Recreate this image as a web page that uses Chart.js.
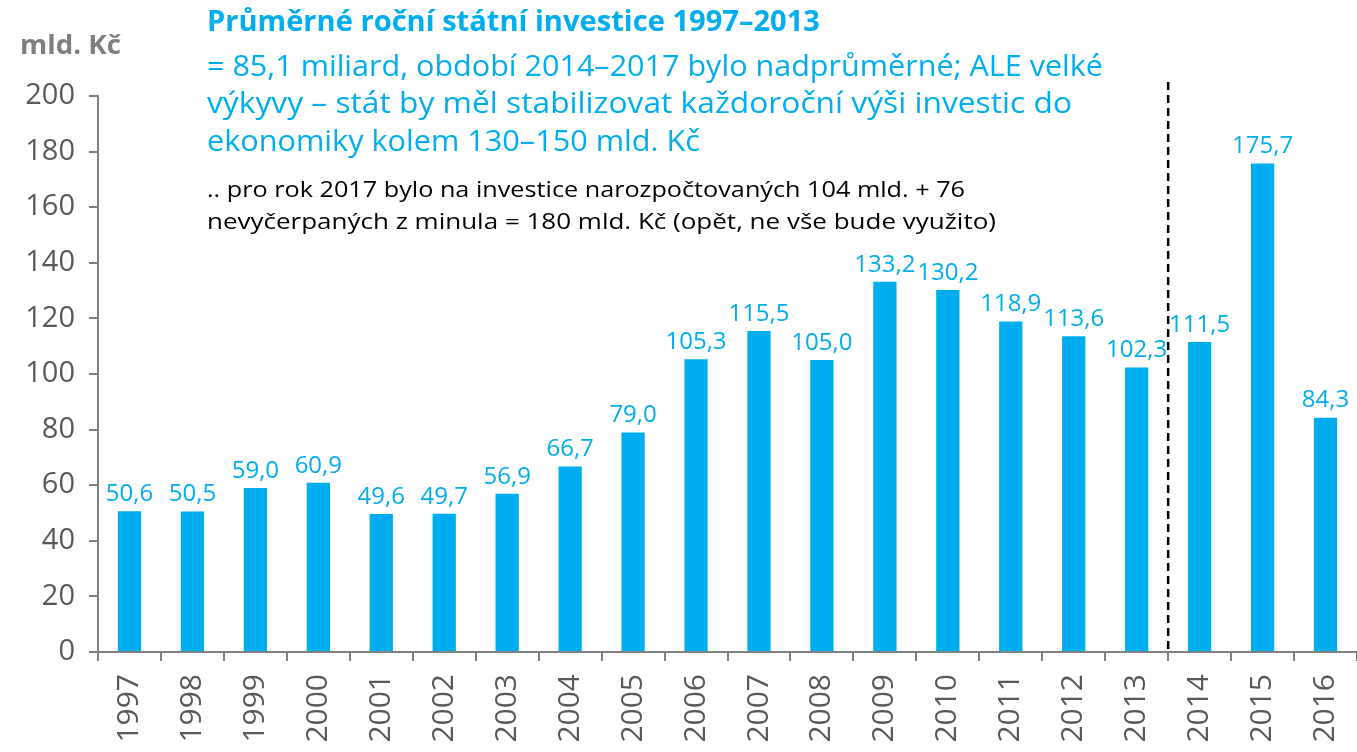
<!DOCTYPE html>
<html>
<head>
<meta charset="utf-8">
<script src="https://cdn.jsdelivr.net/npm/chart.js@4"></script>
<style>
html,body{margin:0;padding:0;background:#fff;}
#wrap{position:relative;width:1357px;height:752px;overflow:hidden;}
canvas{position:absolute;left:0;top:0;}
.t{position:absolute;white-space:nowrap;font-family:"Open Sans",sans-serif;transform-origin:0 50%;}
</style>
</head>
<body>
<div id="wrap">
<canvas id="c" width="1357" height="752"></canvas>
<div class="t" data-w="101" style="left:20px;top:28px;font-size:27px;line-height:32px;font-weight:700;color:#7f7f7f;">mld. Kč</div>
<div class="t" data-w="613" style="left:207px;top:3px;font-size:29px;line-height:34px;font-weight:700;color:#00AEEF;">Průměrné roční státní investice 1997–2013</div>
<div class="t" data-w="896" style="left:207px;top:47px;font-size:29px;line-height:36px;color:#00AEEF;">= 85,1 miliard, období 2014–2017 bylo nadprůměrné; ALE velké</div>
<div class="t" data-w="865" style="left:207px;top:84px;font-size:29px;line-height:36px;color:#00AEEF;">výkyvy – stát by měl stabilizovat každoroční výši investic do</div>
<div class="t" data-w="493" style="left:207px;top:122px;font-size:29px;line-height:36px;color:#00AEEF;">ekonomiky kolem 130–150 mld. Kč</div>
<div class="t" data-w="758" style="left:207px;top:174px;font-size:22px;line-height:28px;color:#000;">.. pro rok 2017 bylo na investice narozpočtovaných 104 mld. + 76</div>
<div class="t" data-w="789" style="left:207px;top:206px;font-size:22px;line-height:28px;color:#000;">nevyčerpaných z minula = 180 mld. Kč (opět, ne vše bude využito)</div>
</div>
<script>
const years = ["1997","1998","1999","2000","2001","2002","2003","2004","2005","2006","2007","2008","2009","2010","2011","2012","2013","2014","2015","2016"];
const investments = [50.6,50.5,59.0,60.9,49.6,49.7,56.9,66.7,79.0,105.3,115.5,105.0,133.2,130.2,118.9,113.6,102.3,111.5,175.7,84.3];
const yTicks = [0,20,40,60,80,100,120,140,160,180,200];
const dividerAfter = "2013";

document.querySelectorAll('.t').forEach(el => {
  const target = parseFloat(el.dataset.w);
  const w = el.getBoundingClientRect().width;
  if (w > 0) el.style.transform = 'scaleX(' + (target / w) + ')';
});

const BLUE = '#00AEEF';
const GRAY = '#808080';

const labelsPlugin = {
  id: 'valueLabels',
  afterDatasetsDraw(chart) {
    const ctx = chart.ctx;
    const meta = chart.getDatasetMeta(0);
    ctx.save();
    ctx.fillStyle = BLUE;
    ctx.font = '24px "Open Sans", sans-serif';
    ctx.textAlign = 'center';
    ctx.textBaseline = 'bottom';
    meta.data.forEach((bar, i) => {
      const txt = investments[i].toFixed(1).replace('.', ',');
      ctx.fillText(txt, bar.x, bar.y - 5);
    });
    ctx.restore();
  }
};

const dividerPlugin = {
  id: 'divider',
  afterDatasetsDraw(chart) {
    const xs = chart.scales.x;
    const idx = years.indexOf(dividerAfter);
    const x = xs.getPixelForValue(idx + 0.5);
    const ctx = chart.ctx;
    ctx.save();
    ctx.strokeStyle = '#000';
    ctx.lineWidth = 2.5;
    ctx.setLineDash([8, 5]);
    ctx.beginPath();
    ctx.moveTo(x, 82);
    ctx.lineTo(x, chart.chartArea.bottom);
    ctx.stroke();
    ctx.restore();
  }
};

new Chart(document.getElementById('c'), {
  type: 'bar',
  data: {
    labels: years,
    datasets: [{
      data: investments,
      backgroundColor: BLUE,
      borderWidth: 0,
      barPercentage: 0.37,
      categoryPercentage: 1.0
    }]
  },
  options: {
    responsive: false,
    animation: false,
    events: [],
    layout: { padding: { top: 96, right: 0, left: 0, bottom: 0 } },
    plugins: { legend: { display: false }, tooltip: { enabled: false }, title: { display: false } },
    scales: {
      x: {
        afterFit(s) { s.height = 100; s.paddingRight = 0; s.paddingLeft = 0; },
        grid: { offset: true, drawOnChartArea: false, drawTicks: true, tickLength: 9, color: GRAY, lineWidth: 2 },
        border: { display: true, color: GRAY, width: 2 },
        ticks: {
          color: '#595959',
          font: { family: '"Open Sans", sans-serif', size: 30 },
          minRotation: 90, maxRotation: 90,
          padding: 13,
          autoSkip: false
        }
      },
      y: {
        min: 0, max: 200,
        afterFit(s) { s.width = 98; s.paddingTop = 0; s.paddingBottom = 0; },
        afterBuildTicks(s) { s.ticks = yTicks.map(v => ({ value: v })); },
        grid: { drawOnChartArea: false, drawTicks: true, tickLength: 9, color: GRAY, lineWidth: 2 },
        border: { display: true, color: GRAY, width: 2 },
        ticks: {
          color: '#595959',
          font: { family: '"Open Sans", sans-serif', size: 29 },
          padding: 14
        }
      }
    }
  },
  plugins: [labelsPlugin, dividerPlugin]
});
</script>
</body>
</html>
